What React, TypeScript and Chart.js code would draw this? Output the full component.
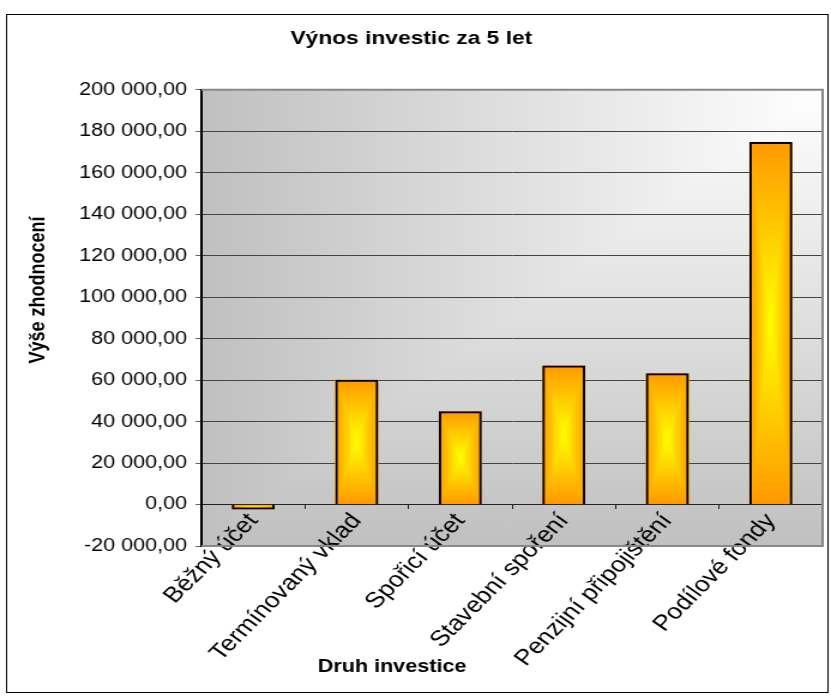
import React, { useEffect, useRef } from 'react';
import { Chart, registerables } from 'chart.js';

Chart.register(...registerables);

// ---- data ----
const CHART_TITLE = 'Výnos investic za 5 let';
const X_TITLE = 'Druh investice';
const Y_TITLE = 'Výše zhodnocení';
const categories = [
  'Běžný účet',
  'Termínovaný vklad',
  'Spořicí účet',
  'Stavební spoření',
  'Penzijní připojištění',
  'Podílové fondy',
];
const values = [-2400, 60200, 45000, 67100, 63300, 174800];
const Y_MIN = -20000;
const Y_MAX = 200000;
const Y_STEP = 20000;

// ---- layout (canvas drawn narrower, stretched horizontally like the reference) ----
const OUT_W = 831;
const W = 693;
const H = 697;
const SX = OUT_W / W;
const FONT = '"Liberation Sans", Arial, sans-serif';

function fmt(v: number): string {
  const neg = v < 0;
  const s = Math.abs(v).toFixed(2);
  const [i, d] = s.split('.');
  const ii = i.replace(/\B(?=(\d{3})+(?!\d))/g, ' ');
  return (neg ? '-' : '') + ii + ',' + d;
}

const ORANGE = '#FF9900';
const YELLOW = '#FFFF00';

const bgPlugin = {
  id: 'bgPlugin',
  beforeDraw(chart: any) {
    const { ctx, chartArea: a, width, height } = chart;
    ctx.save();
    ctx.fillStyle = '#ffffff';
    ctx.fillRect(0, 0, width, height);
    // outer chart border
    ctx.strokeStyle = '#000';
    ctx.lineWidth = 1;
    ctx.strokeRect(5.5, 14.5, 685, 678);

    const L = a.left, R = a.right, T = a.top, B = a.bottom;
    // vertical gradient over whole plot
    let g = ctx.createLinearGradient(0, T, 0, B);
    g.addColorStop(0, '#ffffff');
    g.addColorStop(1, '#c0c0c0');
    ctx.fillStyle = g;
    ctx.fillRect(L, T, R - L, B - T);
    // upper-left triangle: horizontal gradient
    g = ctx.createLinearGradient(R, 0, L, 0);
    g.addColorStop(0, '#ffffff');
    g.addColorStop(1, '#c0c0c0');
    ctx.beginPath();
    ctx.moveTo(L, T);
    ctx.lineTo(R, T);
    ctx.lineTo(L, B);
    ctx.closePath();
    ctx.fillStyle = g;
    ctx.fill();

    // axis titles
    ctx.fillStyle = '#000';
    ctx.font = `bold 18px ${FONT}`;
    ctx.textAlign = 'center';
    ctx.textBaseline = 'middle';
    ctx.fillText(X_TITLE, 392 / SX, 667);
    ctx.translate(38 / SX, 290);
    ctx.rotate(-Math.PI / 2);
    ctx.fillText(Y_TITLE, 0, 0);
    ctx.restore();
  },
  beforeDatasetsDraw(chart: any) {
    const { ctx, chartArea: a } = chart;
    ctx.save();
    // plot frame (top, right, bottom)
    ctx.strokeStyle = '#888888';
    ctx.lineWidth = 2;
    ctx.beginPath();
    ctx.moveTo(a.left, a.top);
    ctx.lineTo(a.right, a.top);
    ctx.lineTo(a.right, a.bottom);
    ctx.lineTo(a.left, a.bottom);
    ctx.stroke();

    // bar fills: rectangular "from centre" gradient
    const meta = chart.getDatasetMeta(0);
    meta.data.forEach((el: any) => {
      const { x, y, base, width } = el.getProps(['x', 'y', 'base', 'width'], true);
      const l = x - width / 2;
      const r = x + width / 2;
      const t = Math.min(y, base);
      const b = Math.max(y, base);
      const cx = x;
      const cy = (t + b) / 2;
      let g = ctx.createLinearGradient(0, t, 0, b);
      g.addColorStop(0, ORANGE);
      g.addColorStop(0.5, YELLOW);
      g.addColorStop(1, ORANGE);
      ctx.fillStyle = g;
      ctx.fillRect(l, t, r - l, b - t);
      g = ctx.createLinearGradient(l, 0, r, 0);
      g.addColorStop(0, ORANGE);
      g.addColorStop(0.5, YELLOW);
      g.addColorStop(1, ORANGE);
      ctx.fillStyle = g;
      ctx.beginPath();
      ctx.moveTo(l, t);
      ctx.lineTo(cx, cy);
      ctx.lineTo(l, b);
      ctx.closePath();
      ctx.moveTo(r, t);
      ctx.lineTo(cx, cy);
      ctx.lineTo(r, b);
      ctx.closePath();
      ctx.fill();
    });
    ctx.restore();
  },
};

export default function App() {
  const ref = useRef<HTMLCanvasElement>(null);
  useEffect(() => {
    if (!ref.current) return;
    const chart = new Chart(ref.current, {
      type: 'bar',
      data: {
        labels: categories,
        datasets: [
          {
            data: values,
            backgroundColor: 'rgba(0,0,0,0)',
            borderColor: '#000000',
            borderWidth: 2,
            barPercentage: 0.415,
            categoryPercentage: 1,
          },
        ],
      },
      options: {
        animation: false,
        responsive: false,
        devicePixelRatio: 1,
        events: [],
        layout: { padding: { top: 14, left: 0, right: 7, bottom: 151 } },
        plugins: {
          legend: { display: false },
          tooltip: { enabled: false },
          title: {
            display: true,
            text: CHART_TITLE,
            color: '#000',
            font: { family: FONT, size: 19, weight: 'bold' },
            padding: { top: 13, bottom: 40 },
          },
        },
        scales: {
          x: {
            position: { y: 0 } as any,
            grid: {
              display: true,
              drawOnChartArea: false,
              drawTicks: true,
              tickLength: 4,
              color: '#222',
              offset: true,
            },
            border: { display: true, color: '#222', width: 1 },
            ticks: {
              autoSkip: false,
              minRotation: 50,
              maxRotation: 50,
              padding: 0,
              color: '#000',
              font: { family: FONT, size: 22 },
            },
          },
          y: {
            min: Y_MIN,
            max: Y_MAX,
            ticks: {
              stepSize: Y_STEP,
              padding: 7,
              color: '#000',
              font: { family: FONT, size: 18 },
              callback: (v: any) => fmt(Number(v)),
            },
            grid: { color: '#444', lineWidth: 1, tickLength: 5, tickColor: '#666' },
            border: { color: '#000', width: 2 },
            afterFit: (s: any) => {
              s.width = 168;
            },
          },
        },
      },
      plugins: [bgPlugin],
    } as any);
    return () => chart.destroy();
  }, []);
  return (
    <div style={{ position: 'absolute', left: 0, top: 0, width: OUT_W, height: H, overflow: 'hidden' }}>
      <div style={{ width: W, height: H, transform: `scaleX(${SX})`, transformOrigin: '0 0' }}>
        <canvas ref={ref} width={W} height={H} style={{ display: 'block', width: W, height: H }} />
      </div>
    </div>
  );
}
